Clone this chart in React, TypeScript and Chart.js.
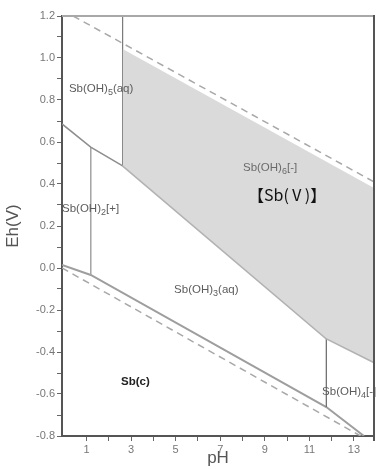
import { useEffect, useRef } from 'react';
import { Chart, registerables } from 'chart.js';

Chart.register(...registerables);

// ---- axis ticks ----
const X_TICKS = [1, 2, 3, 4, 5, 6, 7, 8, 9, 10, 11, 12, 13];
const X_TICK_LABELS = ['1', '', '3', '', '5', '', '7', '', '9', '', '11', '', '13'];
const Y_TICKS = [-0.8, -0.7, -0.6, -0.5, -0.4, -0.3, -0.2, -0.1, 0, 0.1, 0.2, 0.3, 0.4, 0.5, 0.6, 0.7, 0.8, 0.9, 1.0, 1.1, 1.2];
const Y_TICK_LABELS = ['-0.8', '', '-0.6', '', '-0.4', '', '-0.2', '', '0.0', '', '0.2', '', '0.4', '', '0.6', '', '0.8', '', '1.0', '', '1.2'];

// ---- boundary lines (pH, Eh) ----
const SHADE_TOP = [{ x: 2.62, y: 1.043 }, { x: 13.9, y: 0.381 }];
const SBV_SBIII = [{ x: 2.62, y: 0.49 }, { x: 11.76, y: -0.333 }, { x: 13.9, y: -0.447 }];
const SBV_SBOH2 = [{ x: -0.1, y: 0.686 }, { x: 1.19, y: 0.576 }, { x: 2.62, y: 0.486 }];
const VERT_SBOH5 = [{ x: 2.62, y: 1.2 }, { x: 2.62, y: 0.486 }];
const VERT_SBOH2 = [{ x: 1.19, y: 0.576 }, { x: 1.19, y: -0.033 }];
const VERT_SBOH4 = [{ x: 11.76, y: -0.333 }, { x: 11.76, y: -0.662 }];
const SB_METAL = [{ x: -0.1, y: 0.014 }, { x: 1.19, y: -0.033 }, { x: 11.76, y: -0.662 }, { x: 13.45, y: -0.8 }];
const WATER_UPPER = [{ x: 0.4, y: 1.2 }, { x: 13.9, y: 0.41 }];
const WATER_LOWER = [{ x: -0.1, y: 0.0 }, { x: 13.3, y: -0.8 }];

// ---- region labels: [main, subscript, tail], anchor pH, anchor Eh ----
const LABEL_TEXTS = [
  ['Sb(OH)', '5', '(aq)'],
  ['Sb(OH)', '2', '[+]'],
  ['Sb(OH)', '6', '[-]'],
  ['Sb(OH)', '3', '(aq)'],
  ['Sb(OH)', '4', '[-]'],
  ['Sb(c)', '', ''],
];
const LABEL_PH = [0.21, -0.1, 8.02, 4.93, 11.57, 2.55];
const LABEL_EH = [0.838, 0.267, 0.462, -0.119, -0.605, -0.557];
const TITLE_TEXT = '【Sb(Ⅴ)】';
const TITLE_PH = 10.0;
const TITLE_EH = 0.319;

const FONT = '"Liberation Sans", Arial, sans-serif';

const labelPlugin = {
  id: 'regionLabels',
  afterDatasetsDraw(chart: any) {
    const { ctx, scales } = chart;
    const xs = scales.x;
    const ys = scales.y;
    ctx.save();
    ctx.textBaseline = 'alphabetic';
    ctx.textAlign = 'left';
    LABEL_TEXTS.forEach((parts, i) => {
      let px = xs.getPixelForValue(LABEL_PH[i]);
      const py = ys.getPixelForValue(LABEL_EH[i]);
      const bold = parts[1] === '';
      ctx.fillStyle = bold ? '#222' : i === 2 ? '#6a6a6a' : '#5c5c5c';
      ctx.font = (bold ? 'bold 11.5px ' : '11.5px ') + FONT;
      ctx.fillText(parts[0], px, py);
      px += ctx.measureText(parts[0]).width;
      if (parts[1]) {
        ctx.font = '9px ' + FONT;
        ctx.fillText(parts[1], px, py + 3);
        px += ctx.measureText(parts[1]).width;
      }
      if (parts[2]) {
        ctx.font = '11.5px ' + FONT;
        ctx.fillText(parts[2], px, py);
      }
    });
    ctx.fillStyle = '#111';
    ctx.textAlign = 'center';
    ctx.font = '16px "Noto Sans CJK SC", sans-serif';
    ctx.fillText(TITLE_TEXT, xs.getPixelForValue(TITLE_PH), ys.getPixelForValue(TITLE_EH));
    ctx.restore();
  },
};

const framePlugin = {
  id: 'frame',
  afterDraw(chart: any) {
    const { ctx, chartArea } = chart;
    const { left, right, top, bottom } = chartArea;
    ctx.save();
    ctx.strokeStyle = '#a8a8a8';
    ctx.lineWidth = 2;
    ctx.beginPath();
    ctx.moveTo(left, top);
    ctx.lineTo(right, top);
    ctx.stroke();
    ctx.strokeStyle = '#555';
    ctx.lineWidth = 2;
    ctx.beginPath();
    ctx.moveTo(right, top - 1);
    ctx.lineTo(right, bottom + 5);
    ctx.stroke();
    ctx.restore();
  },
};

function line(data: any[], color: string, width: number, extra: any = {}) {
  return {
    data,
    showLine: true,
    borderColor: color,
    borderWidth: width,
    pointRadius: 0,
    pointHoverRadius: 0,
    fill: false,
    tension: 0,
    ...extra,
  };
}

export default function App() {
  const ref = useRef<HTMLCanvasElement | null>(null);
  useEffect(() => {
    document.body.style.margin = '0';
    const canvas = ref.current!;
    const datasets: any[] = [
      line(SHADE_TOP, 'rgba(0,0,0,0)', 0, { fill: '+1', backgroundColor: '#dadada' }),
      line(SBV_SBIII, '#b2b2b2', 3),
      line(SBV_SBOH2, '#8e8e8e', 1.5),
      line(VERT_SBOH5, '#7a7a7a', 1.2),
      line(VERT_SBOH2, '#a5a5a5', 1),
      line(VERT_SBOH4, '#666', 1.2),
      line(SB_METAL, '#9e9e9e', 2),
      line(WATER_UPPER, '#a8a8a8', 1.5, { borderDash: [7, 5] }),
      line(WATER_LOWER, '#a8a8a8', 1.5, { borderDash: [7, 5] }),
    ];
    const chart = new Chart(canvas, {
      type: 'scatter',
      data: { datasets },
      options: {
        animation: false,
        responsive: false,
        maintainAspectRatio: false,
        events: [],
        layout: { padding: { top: 16, right: 15, left: 0, bottom: 0 } },
        plugins: { legend: { display: false }, tooltip: { enabled: false } },
        scales: {
          x: {
            type: 'linear',
            min: -0.1,
            max: 13.9,
            afterBuildTicks: (s: any) => { s.ticks = X_TICKS.map((v) => ({ value: v })); },
            afterFit: (s: any) => { s.height = 33; },
            ticks: {
              autoSkip: false,
              maxRotation: 0,
              padding: 2,
              color: '#777',
              font: { family: FONT, size: 11 },
              callback: (_v: any, i: number) => X_TICK_LABELS[i],
            },
            grid: { display: true, drawOnChartArea: false, drawTicks: true, tickLength: 5, color: '#666' },
            border: { display: true, color: '#555', width: 2 },
            title: { display: true, text: 'pH', color: '#555', font: { family: FONT, size: 17 }, padding: { top: 0, bottom: 0 } },
          },
          y: {
            type: 'linear',
            min: -0.8,
            max: 1.2,
            afterBuildTicks: (s: any) => { s.ticks = Y_TICKS.map((v) => ({ value: v })); },
            afterFit: (s: any) => { s.width = 62; },
            ticks: {
              autoSkip: false,
              padding: 2,
              color: '#777',
              font: { family: FONT, size: 11 },
              callback: (_v: any, i: number) => Y_TICK_LABELS[i],
            },
            grid: { display: true, drawOnChartArea: false, drawTicks: true, tickLength: 5, color: '#666' },
            border: { display: true, color: '#555', width: 2 },
            title: { display: true, text: 'Eh(V)', color: '#555', font: { family: FONT, size: 17 }, padding: { top: 3, bottom: 0 } },
          },
        },
      },
      plugins: [labelPlugin, framePlugin],
    });
    return () => chart.destroy();
  }, []);
  return <canvas ref={ref} width={389} height={469} style={{ display: 'block' }} />;
}
